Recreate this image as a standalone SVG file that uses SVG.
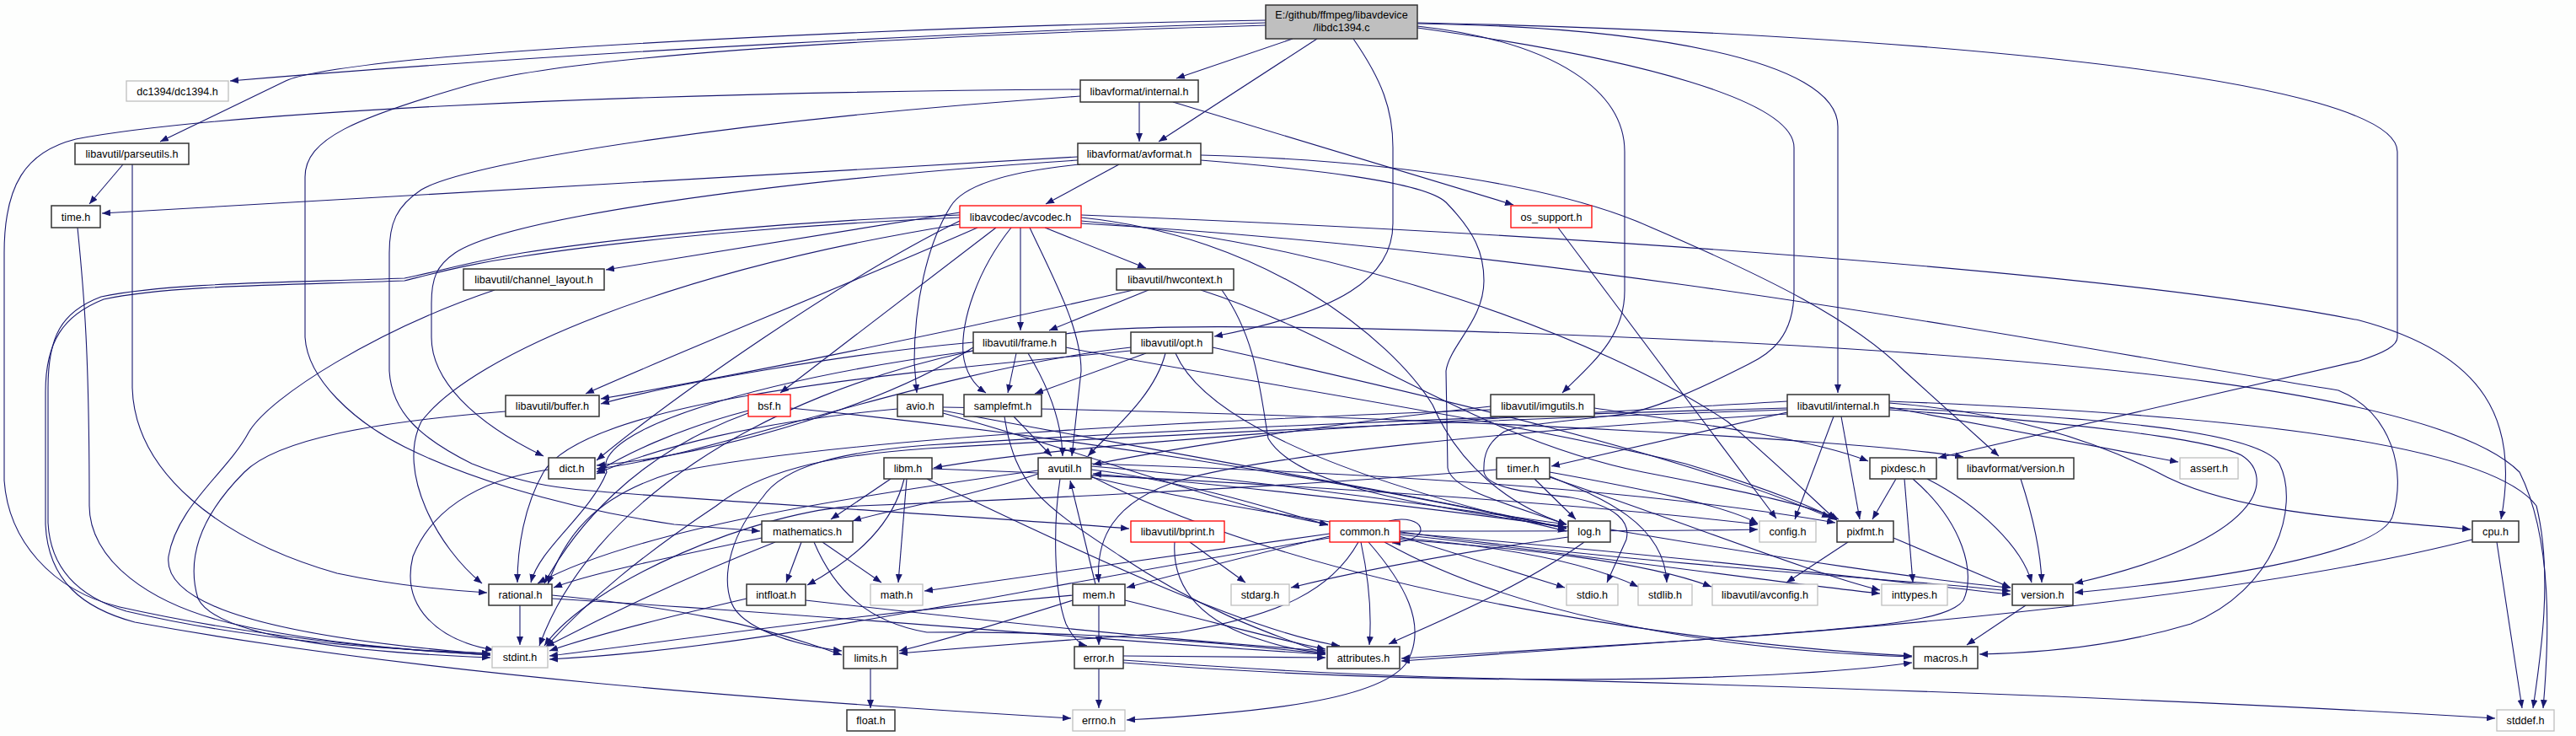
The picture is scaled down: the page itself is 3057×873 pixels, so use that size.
<svg xmlns="http://www.w3.org/2000/svg" width="3057" height="873" viewBox="0 0 3057 873">
<defs>
<marker id="a" viewBox="0 0 10 8" refX="10" refY="4" markerWidth="10" markerHeight="8" markerUnits="userSpaceOnUse" orient="auto"><path d="M0,0L10,4L0,8z" fill="#191970"/></marker>
<style>
.e{fill:none;stroke:#191970;stroke-width:1.1;marker-end:url(#a)}
.n rect{fill:#fff;stroke:#333;stroke-width:1.5}
.g rect{fill:#fff;stroke:#bfbfbf;stroke-width:1.3}
.r rect{fill:#fff;stroke:#ff0000;stroke-width:1.3}
text{font-family:"Liberation Sans",Arial,Helvetica,sans-serif;font-size:12.6px;text-anchor:middle;fill:#000}
</style>
</defs>
<rect x="0" y="0" width="3057" height="873" fill="#fdfefd"/>
<g id="edges">
<path class="e" d="M1502,27 C1200,36 700,60 273,96"/>
<path class="e" d="M1502,24 C1150,30 700,50 471,73 C400,81 355,88 339,96 L190,168"/>
<path class="e" d="M1534,46 L1396,93"/>
<path class="e" d="M1563,46 L1375,168"/>
<path class="e" d="M1502,30 C1100,42 700,62 560,100 C420,140 362,165 362,210 L362,400 C365,450 420,500 480,530 C540,560 650,600 800,622 L902,630"/>
<path class="e" d="M1606,46 C1640,95 1653,130 1653,175 L1653,265 C1653,330 1590,370 1441,399"/>
<path class="e" d="M1682,31 C1850,50 1928,110 1928,180 L1928,345 C1928,400 1890,430 1854,466"/>
<path class="e" d="M1682,28 C1950,32 2181,70 2181,150 L2181,466"/>
<path class="e" d="M1682,27 C2300,40 2845,95 2845,180 L2845,400 C2845,410 2830,418 2800,428 L2300,543"/>
<path class="e" d="M1682,33 C1950,70 2129,120 2129,175 L2129,345 C2129,400 2100,420 2075,432 C2000,470 1950,490 1913,493 C1850,500 1800,505 1785,512 C1765,525 1760,540 1761,560 C1765,580 1820,585 1864,590 C1920,600 1935,620 1930,640 L1907,691"/>
<path class="e" d="M1352,121 L1352,168"/>
<path class="e" d="M1282,106 C700,110 250,135 90,165 C30,180 5,220 5,300 L5,570 C10,640 60,700 142,720 C300,755 450,770 582,777"/>
<path class="e" d="M1392,121 L1796,243"/>
<path class="e" d="M1282,114 C900,140 560,190 500,225 C470,245 462,265 462,300 L462,440 C465,490 500,520 560,550 C610,570 650,578 700,582 C850,595 1200,615 1340,627"/>
<path class="e" d="M146,195 L106,242"/>
<path class="e" d="M157,195 L157,460 C160,560 260,640 400,680 C470,695 530,700 578,703"/>
<path class="e" d="M1279,186 L121,253"/>
<path class="e" d="M1328,195 L1241,242"/>
<path class="e" d="M1282,195 C1180,205 1140,225 1128,245 C1100,290 1085,360 1085,430 L1088,466"/>
<path class="e" d="M1279,190 C900,215 600,260 540,300 C518,315 512,330 512,360 L512,400 C512,450 560,500 645,541"/>
<path class="e" d="M1425,190 C1550,200 1690,215 1716,240 C1750,275 1761,300 1761,333 C1761,380 1720,410 1716,440 L1718,555 C1722,580 1780,595 1859,622"/>
<path class="e" d="M1425,184 C1650,190 1850,220 1960,270 C2100,330 2200,380 2260,440 L2372,541"/>
<path class="e" d="M92,270 C100,350 106,420 106,600 C106,660 170,720 300,745 C400,765 500,772 582,777"/>
<path class="e" d="M1139,252 L719,320"/>
<path class="e" d="M1240,270 L1360,318"/>
<path class="e" d="M1211,270 L1211,392"/>
<path class="e" d="M1160,270 C1000,340 800,420 695,467"/>
<path class="e" d="M1182,270 L926,466"/>
<path class="e" d="M1200,270 C1160,320 1140,380 1143,420 C1146,445 1158,458 1170,466"/>
<path class="e" d="M1222,270 C1250,330 1283,390 1283,440 L1272,541"/>
<path class="e" d="M1139,262 C1000,330 800,470 708,546"/>
<path class="e" d="M1139,266 C800,320 560,420 500,500 C470,560 520,650 572,692"/>
<path class="e" d="M1283,258 C1500,280 1650,400 1700,480 C1730,550 1790,600 1859,622"/>
<path class="e" d="M1283,262 C1600,290 1900,400 2050,500 C2120,560 2160,600 2178,616"/>
<path class="e" d="M1283,255 C1800,275 2500,320 2800,380 C2950,420 2990,500 2968,616"/>
<path class="e" d="M1283,265 C1900,300 2500,420 2775,463 C2840,490 2855,560 2840,610 C2830,660 2600,690 2462,703"/>
<path class="e" d="M1139,255 C950,262 750,280 620,300 C560,310 520,322 480,330 C350,335 200,335 120,352 C72,370 57,400 57,460 L57,620 C60,680 100,710 150,725 C300,760 450,770 582,775"/>
<path class="e" d="M1139,258 C950,266 750,284 620,304 C560,312 520,323 480,333 C350,338 200,338 123,355 C75,374 54,405 54,465 L54,622 C57,690 100,722 160,738 C500,800 900,830 1271,852"/>
<path class="e" d="M1363,344 L1245,392"/>
<path class="e" d="M1345,344 C1100,400 850,450 713,473"/>
<path class="e" d="M1450,344 C1490,400 1495,460 1505,520 C1540,580 1700,600 1859,626"/>
<path class="e" d="M1425,344 C1600,400 1750,520 1950,560 C2080,585 2150,600 2182,616"/>
<path class="e" d="M1155,406 C1000,420 800,455 713,479"/>
<path class="e" d="M1206,419 L1196,466"/>
<path class="e" d="M1220,419 C1245,460 1260,500 1261,541"/>
<path class="e" d="M1155,412 C1050,480 850,540 708,552"/>
<path class="e" d="M1155,416 C900,450 700,510 720,560 C700,610 640,650 630,691"/>
<path class="e" d="M1265,412 C1400,440 1800,500 2000,550 C2100,580 2160,605 2180,617"/>
<path class="e" d="M1265,396 C1330,385 1500,385 1800,395 C2500,420 2900,470 2990,560 C3030,640 3025,760 3018,840"/>
<path class="e" d="M1155,416 C900,470 700,600 640,766"/>
<path class="e" d="M1360,419 L1228,467"/>
<path class="e" d="M1383,419 C1370,470 1320,510 1291,541"/>
<path class="e" d="M1342,412 C1100,440 850,540 708,556"/>
<path class="e" d="M1342,416 C1100,440 700,470 645,560 C622,600 614,650 614,691"/>
<path class="e" d="M1395,419 C1430,500 1600,570 1859,630"/>
<path class="e" d="M1439,412 C1700,470 2000,540 2172,614"/>
<path class="e" d="M888,487 C800,510 740,540 708,560"/>
<path class="e" d="M888,490 C750,540 680,630 646,692"/>
<path class="e" d="M938,484 C1250,515 1600,570 1859,627"/>
<path class="e" d="M1065,485 C900,500 780,530 708,562"/>
<path class="e" d="M1119,490 C1300,540 1450,600 1576,622"/>
<path class="e" d="M1119,487 C1400,540 1700,590 1859,627"/>
<path class="e" d="M1119,483 C1600,490 2200,520 2330,542"/>
<path class="e" d="M1203,494 L1248,541"/>
<path class="e" d="M1192,494 C1205,580 1240,600 1330,660 C1420,720 1500,750 1573,775"/>
<path class="e" d="M1769,482 C1600,500 1400,530 1297,551"/>
<path class="e" d="M1892,484 C2000,500 2150,520 2217,547"/>
<path class="e" d="M1769,486 C1400,500 1000,520 800,560 C700,590 670,640 650,693"/>
<path class="e" d="M2121,489 L1841,553"/>
<path class="e" d="M2121,476 C1800,495 1300,520 1108,555"/>
<path class="e" d="M2242,483 L2585,548"/>
<path class="e" d="M2176,494 L2130,616"/>
<path class="e" d="M2185,494 L2207,616"/>
<path class="e" d="M2242,478 C2400,490 2500,530 2560,560 C2650,610 2800,615 2932,628"/>
<path class="e" d="M2242,476 C2600,490 2950,520 3010,600 C3030,680 3015,780 3006,840"/>
<path class="e" d="M2242,486 C2450,500 2620,520 2660,540 C2700,565 2690,640 2462,692"/>
<path class="e" d="M2242,484 C2500,495 2680,512 2705,550 C2730,600 2700,700 2600,740 C2500,770 2400,775 2349,776"/>
<path class="e" d="M2121,484 C1700,495 1300,515 1100,528 C1000,536 930,552 905,590 C870,630 855,680 868,715 C880,745 940,765 999,772"/>
<path class="e" d="M2121,486 C1700,500 1300,520 1100,532 C980,540 900,560 850,600 C760,660 700,710 648,767"/>
<path class="e" d="M2121,491 C1800,510 1500,540 1400,570 C1320,595 1300,640 1304,691"/>
<path class="e" d="M651,557 C560,570 510,610 490,660 C475,720 520,760 586,771"/>
<path class="e" d="M600,488 C450,500 330,520 290,560 C240,610 220,660 235,710 C260,760 450,775 582,780"/>
<path class="e" d="M1057,568 L986,616"/>
<path class="e" d="M1073,568 C1060,620 1020,660 958,694"/>
<path class="e" d="M1076,568 L1066,691"/>
<path class="e" d="M1100,568 C1250,640 1480,750 1590,766"/>
<path class="e" d="M1106,556 C1500,570 1900,600 2086,622"/>
<path class="e" d="M1295,557 C1400,570 1500,600 1576,623"/>
<path class="e" d="M1258,568 C1250,620 1250,700 1265,740 C1275,760 1285,765 1290,766"/>
<path class="e" d="M1232,558 C1000,590 750,630 638,692"/>
<path class="e" d="M1295,566 C1700,660 2200,680 2386,701"/>
<path class="e" d="M1295,565 C1600,720 2100,770 2269,778"/>
<path class="e" d="M1232,562 C1150,590 1050,605 1012,618"/>
<path class="e" d="M1295,553 C1500,570 1700,600 1859,622"/>
<path class="e" d="M1295,550 C1600,560 1950,580 2178,620"/>
<path class="e" d="M1821,568 L1870,616"/>
<path class="e" d="M1839,560 C1950,580 2050,600 2086,621"/>
<path class="e" d="M1839,565 C1900,590 1975,620 1978,691"/>
<path class="e" d="M1839,566 C2000,620 2150,680 2231,700"/>
<path class="e" d="M1776,557 C1500,580 1150,595 1020,600 C900,605 700,690 646,766"/>
<path class="e" d="M2250,568 L2222,616"/>
<path class="e" d="M2260,568 L2270,691"/>
<path class="e" d="M2287,568 C2350,600 2400,650 2411,691"/>
<path class="e" d="M2270,568 C2330,620 2345,680 2330,712 C2310,740 2200,745 2000,760 C1800,775 1700,782 1663,784"/>
<path class="e" d="M2398,568 C2415,620 2422,660 2423,691"/>
<path class="e" d="M951,643 L933,691"/>
<path class="e" d="M976,643 L1046,691"/>
<path class="e" d="M904,638 C800,660 700,680 657,697"/>
<path class="e" d="M920,643 C800,690 700,740 648,767"/>
<path class="e" d="M966,643 C990,700 1030,738 1100,750 C1300,748 1480,765 1573,776"/>
<path class="e" d="M1412,643 L1478,691"/>
<path class="e" d="M1394,643 C1390,700 1430,740 1500,760 C1530,770 1555,773 1573,774"/>
<path class="e" d="M1648,618 C1690,608 1705,640 1652,644"/>
<path class="e" d="M1578,633 C1450,650 1250,680 1097,701"/>
<path class="e" d="M1578,636 C1480,660 1400,680 1337,697"/>
<path class="e" d="M1661,636 L1857,697"/>
<path class="e" d="M1661,638 C1780,648 1880,665 1944,696"/>
<path class="e" d="M1661,640 C1800,650 1950,665 2031,696"/>
<path class="e" d="M1661,634 C1900,660 2100,690 2231,704"/>
<path class="e" d="M1661,632 C2000,660 2250,690 2386,705"/>
<path class="e" d="M1643,643 C1780,720 2000,770 2269,779"/>
<path class="e" d="M1661,630 C1850,630 2000,630 2086,628"/>
<path class="e" d="M1612,643 C1580,700 1520,730 1400,750 C1250,760 1150,768 1067,775"/>
<path class="e" d="M1578,638 C1200,700 900,770 652,782"/>
<path class="e" d="M1615,643 C1625,690 1628,730 1625,765"/>
<path class="e" d="M1624,643 C1665,690 1695,740 1670,785 C1640,830 1500,845 1337,854"/>
<path class="e" d="M1880,643 C1800,700 1700,740 1648,764"/>
<path class="e" d="M1911,628 C2100,660 2300,690 2386,697"/>
<path class="e" d="M1861,637 C1700,660 1600,680 1532,697"/>
<path class="e" d="M1861,625 C1600,590 1400,570 1297,562"/>
<path class="e" d="M2193,643 L2120,691"/>
<path class="e" d="M2247,638 L2386,697"/>
<path class="e" d="M2963,643 L2993,840"/>
<path class="e" d="M2934,640 C2700,700 2300,740 2000,760 C1800,772 1700,778 1663,781"/>
<path class="e" d="M617,718 L617,765"/>
<path class="e" d="M655,706 C800,720 900,740 999,777"/>
<path class="e" d="M655,710 C1000,730 1300,760 1573,776"/>
<path class="e" d="M886,710 C800,730 700,755 652,772"/>
<path class="e" d="M956,712 C1200,740 1400,760 1573,772"/>
<path class="e" d="M1300,693 L1270,570"/>
<path class="e" d="M1304,718 L1304,765"/>
<path class="e" d="M1273,712 C1200,735 1120,760 1067,772"/>
<path class="e" d="M1273,706 C1000,730 800,760 652,778"/>
<path class="e" d="M1335,712 C1450,740 1520,760 1573,770"/>
<path class="e" d="M1304,793 L1304,840"/>
<path class="e" d="M1333,783 C1500,795 1600,800 1700,803 C2200,815 2600,830 2961,852"/>
<path class="e" d="M1333,778 L1573,780"/>
<path class="e" d="M1333,786 C1700,815 2100,810 2269,786"/>
<path class="e" d="M2404,718 L2334,765"/>
<path class="e" d="M1033,793 L1033,840"/>
<path class="e" d="M587,344 C450,390 320,470 295,513 C270,560 210,600 200,660 C195,700 250,750 582,776"/>
<path class="e" d="M1849,270 L2108,615"/>
</g>
<g id="n_main"><rect x="1502" y="6" width="180" height="40" fill="#bfbfbf" stroke="#333" stroke-width="1.5"/><text x="1592" y="21.8">E:/github/ffmpeg/libavdevice</text><text x="1592" y="36.8">/libdc1394.c</text></g>
<g id="n_dc1394" class="g"><rect x="150" y="96" width="121" height="24"/><text x="210.5" y="112.5">dc1394/dc1394.h</text></g>
<g id="n_lavf_internal" class="n"><rect x="1282" y="95" width="140" height="26"/><text x="1352" y="112.5">libavformat/internal.h</text></g>
<g id="n_parseutils" class="n"><rect x="89" y="170" width="135" height="25"/><text x="156.5" y="187">libavutil/parseutils.h</text></g>
<g id="n_avformat" class="n"><rect x="1279" y="170" width="146" height="25"/><text x="1352" y="187">libavformat/avformat.h</text></g>
<g id="n_time" class="n"><rect x="61" y="244" width="58" height="26"/><text x="90" y="261.5">time.h</text></g>
<g id="n_avcodec" class="r"><rect x="1139" y="244" width="144" height="26"/><text x="1211" y="261.5">libavcodec/avcodec.h</text></g>
<g id="n_os_support" class="r"><rect x="1793" y="244" width="96" height="26"/><text x="1841" y="261.5">os_support.h</text></g>
<g id="n_channel_layout" class="n"><rect x="550" y="319" width="167" height="25"/><text x="633.5" y="336">libavutil/channel_layout.h</text></g>
<g id="n_hwcontext" class="n"><rect x="1325" y="319" width="139" height="25"/><text x="1394.5" y="336">libavutil/hwcontext.h</text></g>
<g id="n_frame" class="n"><rect x="1155" y="394" width="110" height="25"/><text x="1210" y="411">libavutil/frame.h</text></g>
<g id="n_opt" class="n"><rect x="1342" y="394" width="97" height="25"/><text x="1390.5" y="411">libavutil/opt.h</text></g>
<g id="n_buffer" class="n"><rect x="600" y="469" width="111" height="25"/><text x="655.5" y="486">libavutil/buffer.h</text></g>
<g id="n_bsf" class="r"><rect x="888" y="468" width="50" height="26"/><text x="913" y="485.5">bsf.h</text></g>
<g id="n_avio" class="n"><rect x="1065" y="468" width="54" height="26"/><text x="1092" y="485.5">avio.h</text></g>
<g id="n_samplefmt" class="n"><rect x="1144" y="468" width="92" height="26"/><text x="1190" y="485.5">samplefmt.h</text></g>
<g id="n_imgutils" class="n"><rect x="1769" y="468" width="123" height="26"/><text x="1830.5" y="485.5">libavutil/imgutils.h</text></g>
<g id="n_lavu_internal" class="n"><rect x="2121" y="468" width="121" height="26"/><text x="2181.5" y="485.5">libavutil/internal.h</text></g>
<g id="n_dict" class="n"><rect x="651" y="543" width="55" height="25"/><text x="678.5" y="560">dict.h</text></g>
<g id="n_libm" class="n"><rect x="1049" y="543" width="57" height="25"/><text x="1077.5" y="560">libm.h</text></g>
<g id="n_avutil" class="n"><rect x="1232" y="543" width="63" height="25"/><text x="1263.5" y="560">avutil.h</text></g>
<g id="n_timer" class="n"><rect x="1776" y="543" width="63" height="25"/><text x="1807.5" y="560">timer.h</text></g>
<g id="n_pixdesc" class="n"><rect x="2219" y="543" width="79" height="25"/><text x="2258.5" y="560">pixdesc.h</text></g>
<g id="n_lavf_version" class="n"><rect x="2323" y="543" width="138" height="25"/><text x="2392" y="560">libavformat/version.h</text></g>
<g id="n_assert" class="g"><rect x="2587" y="543" width="69" height="25"/><text x="2621.5" y="560">assert.h</text></g>
<g id="n_mathematics" class="n"><rect x="904" y="618" width="108" height="25"/><text x="958" y="635">mathematics.h</text></g>
<g id="n_bprint" class="r"><rect x="1342" y="618" width="111" height="25"/><text x="1397.5" y="635">libavutil/bprint.h</text></g>
<g id="n_common" class="r"><rect x="1578" y="618" width="83" height="25"/><text x="1619.5" y="635">common.h</text></g>
<g id="n_log" class="n"><rect x="1861" y="618" width="50" height="25"/><text x="1886" y="635">log.h</text></g>
<g id="n_config" class="g"><rect x="2088" y="618" width="67" height="25"/><text x="2121.5" y="635">config.h</text></g>
<g id="n_pixfmt" class="n"><rect x="2180" y="618" width="67" height="25"/><text x="2213.5" y="635">pixfmt.h</text></g>
<g id="n_cpu" class="n"><rect x="2934" y="618" width="55" height="25"/><text x="2961.5" y="635">cpu.h</text></g>
<g id="n_rational" class="n"><rect x="580" y="693" width="75" height="25"/><text x="617.5" y="710">rational.h</text></g>
<g id="n_intfloat" class="n"><rect x="886" y="693" width="70" height="25"/><text x="921" y="710">intfloat.h</text></g>
<g id="n_math" class="g"><rect x="1033" y="693" width="62" height="25"/><text x="1064" y="710">math.h</text></g>
<g id="n_mem" class="n"><rect x="1273" y="693" width="62" height="25"/><text x="1304" y="710">mem.h</text></g>
<g id="n_stdarg" class="g"><rect x="1461" y="693" width="69" height="25"/><text x="1495.5" y="710">stdarg.h</text></g>
<g id="n_stdio" class="g"><rect x="1859" y="693" width="61" height="25"/><text x="1889.5" y="710">stdio.h</text></g>
<g id="n_stdlib" class="g"><rect x="1944" y="693" width="64" height="25"/><text x="1976" y="710">stdlib.h</text></g>
<g id="n_avconfig" class="g"><rect x="2032" y="693" width="125" height="25"/><text x="2094.5" y="710">libavutil/avconfig.h</text></g>
<g id="n_inttypes" class="g"><rect x="2233" y="693" width="78" height="25"/><text x="2272" y="710">inttypes.h</text></g>
<g id="n_version" class="n"><rect x="2388" y="693" width="72" height="25"/><text x="2424" y="710">version.h</text></g>
<g id="n_stdint" class="g"><rect x="584" y="767" width="66" height="25"/><text x="617" y="784">stdint.h</text></g>
<g id="n_limits" class="n"><rect x="1001" y="767" width="64" height="26"/><text x="1033" y="784.5">limits.h</text></g>
<g id="n_error" class="n"><rect x="1275" y="767" width="58" height="26"/><text x="1304" y="784.5">error.h</text></g>
<g id="n_attributes" class="n"><rect x="1575" y="767" width="86" height="26"/><text x="1618" y="784.5">attributes.h</text></g>
<g id="n_macros" class="n"><rect x="2271" y="767" width="76" height="26"/><text x="2309" y="784.5">macros.h</text></g>
<g id="n_float" class="n"><rect x="1005" y="842" width="57" height="25"/><text x="1033.5" y="859">float.h</text></g>
<g id="n_errno" class="g"><rect x="1273" y="842" width="62" height="25"/><text x="1304" y="859">errno.h</text></g>
<g id="n_stddef" class="g"><rect x="2963" y="842" width="68" height="25"/><text x="2997" y="859">stddef.h</text></g>
</svg>
